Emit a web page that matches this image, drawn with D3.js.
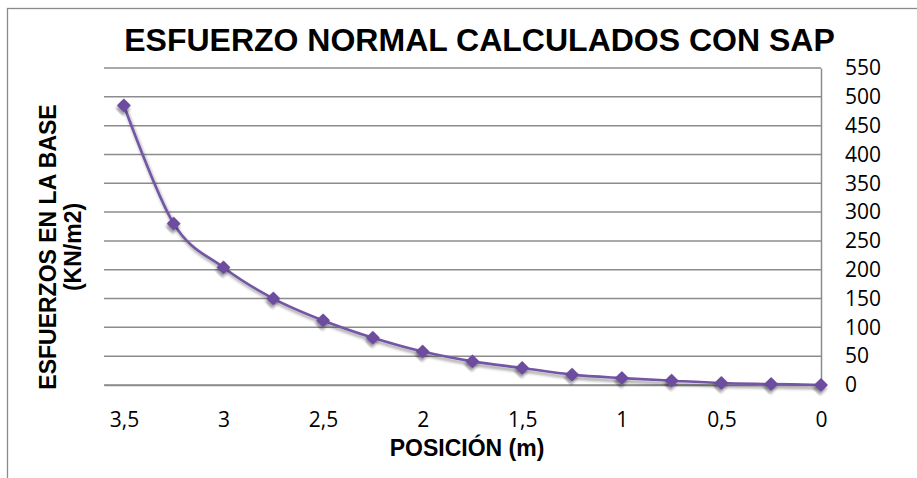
<!DOCTYPE html>
<html>
<head>
<meta charset="utf-8">
<script src="https://cdn.jsdelivr.net/npm/d3@7"></script>
<style>
  html, body { margin: 0; padding: 0; background: #fff; }
  svg { display: block; }
</style>
</head>
<body>
<svg id="chart" width="917" height="478"></svg>
<script>
const title = "ESFUERZO NORMAL CALCULADOS CON SAP";
const xTitle = "POSICIÓN (m)";
const yTitleLines = ["ESFUERZOS EN LA BASE", "(KN/m2)"];
const positions = [3.5, 3.25, 3.0, 2.75, 2.5, 2.25, 2.0, 1.75, 1.5, 1.25, 1.0, 0.75, 0.5, 0.25, 0.0];
const stresses  = [485, 280, 204, 150, 112, 82, 58, 41, 29.5, 18, 12, 7.5, 3.5, 1.7, 0];
const xTicks = [3.5, 3, 2.5, 2, 1.5, 1, 0.5, 0];
const yTicks = [0, 50, 100, 150, 200, 250, 300, 350, 400, 450, 500, 550];

const svg = d3.select("#chart");
const plot = { left: 104, right: 821, top: 68, bottom: 385 };

const x = d3.scaleLinear().domain([3.6, 0]).range([plot.left, plot.right]);
const y = d3.scaleLinear().domain([0, 550]).range([plot.bottom, plot.top]);

const defs = svg.append("defs");
const f = defs.append("filter").attr("id", "shadow").attr("x", "-50%").attr("y", "-50%").attr("width", "200%").attr("height", "200%");
f.append("feDropShadow").attr("dx", 1.5).attr("dy", 3).attr("stdDeviation", 1.8)
  .attr("flood-color", "#000").attr("flood-opacity", 0.4);

// chart border (only top and left visible)
svg.append("rect").attr("x", 7.5).attr("y", 8.5).attr("width", 960).attr("height", 500)
  .attr("fill", "none").attr("stroke", "#8a8a8a").attr("stroke-width", 1.3);

// title
svg.append("text").attr("x", 479.5).attr("y", 51)
  .attr("text-anchor", "middle")
  .style("font-family", "'Liberation Sans', Arial, sans-serif")
  .style("font-weight", "bold").style("font-size", "32px").attr("fill", "#000")
  .text(title);

// gridlines
svg.append("g").selectAll("line").data(yTicks).join("line")
  .attr("x1", plot.left).attr("x2", plot.right)
  .attr("y1", d => y(d)).attr("y2", d => y(d))
  .attr("stroke", "#8c8c8c").attr("stroke-width", 1.5);

const tickFont = "'Open Sans', Carlito, Calibri, sans-serif";

// right axis
const yAxis = d3.axisRight(y).tickValues(yTicks).tickSize(0).tickPadding(24)
  .tickFormat(d => String(d));
const gy = svg.append("g").attr("transform", `translate(${plot.right},0)`).call(yAxis);
gy.select(".domain").attr("stroke", "#8c8c8c").attr("stroke-width", 1.5);
gy.selectAll("text")
  .style("font-family", tickFont)
  .style("font-size", "21px").attr("fill", "#000");

// bottom axis
const xAxis = d3.axisBottom(x).tickValues(xTicks).tickSize(0).tickPadding(27)
  .tickFormat(d => String(d).replace(".", ","));
const gx = svg.append("g").attr("transform", `translate(0,${plot.bottom})`).call(xAxis);
gx.select(".domain").attr("stroke", "#8c8c8c").attr("stroke-width", 1.5);
gx.selectAll("text")
  .style("font-family", tickFont)
  .style("font-size", "21px").attr("fill", "#000");

// axis titles
svg.append("text").attr("x", 467).attr("y", 456)
  .attr("text-anchor", "middle")
  .style("font-family", "'Liberation Sans', Arial, sans-serif")
  .style("font-weight", "bold").style("font-size", "23px").attr("fill", "#000")
  .text(xTitle);

const yt = svg.append("text")
  .attr("transform", "translate(56,247) rotate(-90)")
  .attr("text-anchor", "middle")
  .style("font-family", "'Liberation Sans', Arial, sans-serif")
  .style("font-weight", "bold").style("font-size", "23px").attr("fill", "#000");
yt.selectAll("tspan").data(yTitleLines).join("tspan")
  .attr("x", 0).attr("dy", (d, i) => i === 0 ? 0 : 25)
  .text(d => d);

// series
const data = positions.map((p, i) => ({ p, v: stresses[i] }));
const line = d3.line().x(d => x(d.p)).y(d => y(d.v)).curve(d3.curveCatmullRom.alpha(0));
svg.append("path").datum(data).attr("d", line)
  .attr("fill", "none").attr("stroke", "#7356a4").attr("stroke-width", 2.6)
  .attr("filter", "url(#shadow)");

const diamond = d3.symbol().type(d3.symbolSquare).size(80);
svg.append("g").selectAll("path").data(data).join("path")
  .attr("d", diamond)
  .attr("transform", d => `translate(${x(d.p)},${y(d.v)}) rotate(45)`)
  .attr("fill", "#6c4d9f").attr("stroke", "#6c4d9f").attr("stroke-width", 1)
  .attr("filter", "url(#shadow)");
</script>
</body>
</html>
